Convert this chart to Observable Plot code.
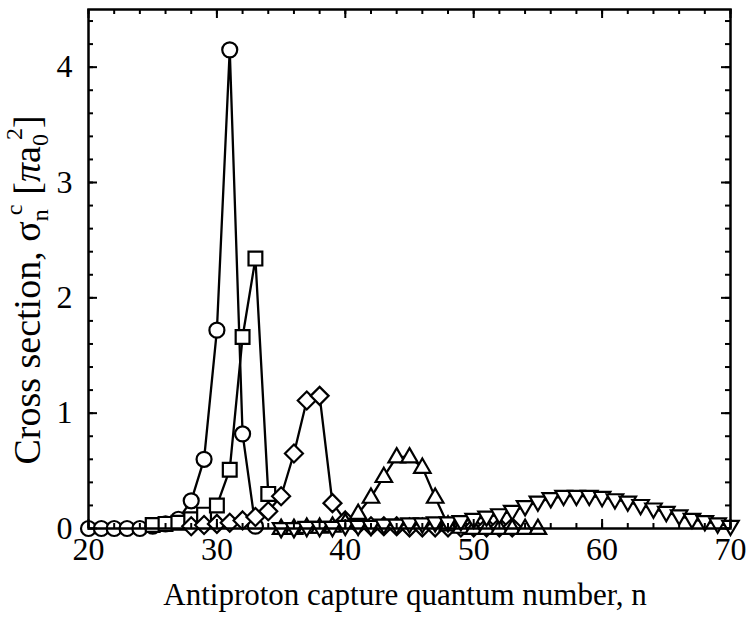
<!DOCTYPE html>
<html>
<head>
<meta charset="utf-8">
<script src="https://cdn.jsdelivr.net/npm/d3@7"></script>
<script src="https://cdn.jsdelivr.net/npm/@observablehq/plot@0.6"></script>
<style>
  html, body { margin: 0; padding: 0; background: #fff; }
  svg { display: block; }
</style>
</head>
<body>
<div id="chart"></div>
<script>
// ---- data ----
const circleN = [20,21,22,23,24,25,26,27,28,29,30,31,32,33];
const circleV = [0,0,0,0,0,0.02,0.04,0.08,0.24,0.6,1.72,4.15,0.82,0.02];

const squareN = [25,26,27,28,29,30,31,32,33,34];
const squareV = [0.03,0.04,0.05,0.08,0.12,0.2,0.51,1.66,2.34,0.3];

const diamondN = [28,29,30,31,32,33,34,35,36,37,38,39,40,41,42,43,44,45,46,47,48,49,50,51,52,53];
const diamondV = [0.02,0.03,0.04,0.05,0.07,0.1,0.15,0.28,0.65,1.11,1.15,0.22,0.07,0.03,0.02,0.02,0.02,0.01,0.01,0.01,0.01,0.01,0.01,0.01,0.01,0.01];

const upN = [35,36,37,38,39,40,41,42,43,44,45,46,47,48,49,50,51,52,53,54,55];
const upV = [0.0,0.0,0.01,0.01,0.02,0.05,0.13,0.27,0.45,0.62,0.62,0.53,0.27,0.03,0.01,0.0,0.0,0.0,0.0,0.0,0.0];

const downN = [35,36,37,38,39,40,41,42,43,44,45,46,47,48,49,50,51,52,53,54,55,56,57,58,59,60,61,62,63,64,65,66,67,68,69,70];
const downV = [0.0,0.0,0.01,0.01,0.01,0.02,0.02,0.02,0.03,0.03,0.04,0.04,0.05,0.05,0.06,0.08,0.1,0.12,0.15,0.19,0.23,0.26,0.28,0.28,0.28,0.27,0.25,0.23,0.2,0.17,0.14,0.11,0.08,0.06,0.04,0.02];

const xTicks = [20,30,40,50,60,70];
const xMinor = d3.range(20, 71, 2);
const yTicks = [0,1,2,3,4];
const yMinor = d3.range(0, 4.5, 0.2);

// ---- symbols ----
const R = s => Math.sqrt(s / Math.PI);
const symCircle = {draw(c, s){ const r = R(s); c.moveTo(r, 0); c.arc(0, 0, r, 0, 2*Math.PI); }};
const symSquare = {draw(c, s){ const r = R(s)*0.92; c.rect(-r, -r, 2*r, 2*r); }};
const symDiamond = {draw(c, s){ const r = R(s)*1.2; c.moveTo(0,-r); c.lineTo(r,0); c.lineTo(0,r); c.lineTo(-r,0); c.closePath(); }};
const symUp = {draw(c, s){ const r = R(s); const w = r*1.1, h = r*1.9; c.moveTo(0,-h*0.62); c.lineTo(w,h*0.38); c.lineTo(-w,h*0.38); c.closePath(); }};
const symDown = {draw(c, s){ const r = R(s); const w = r*1.1, h = r*1.9; c.moveTo(0,h*0.62); c.lineTo(w,-h*0.38); c.lineTo(-w,-h*0.38); c.closePath(); }};

const mk = (N, V) => N.map((n, i) => ({n, v: V[i]}));
const series = [
  {data: mk(circleN, circleV), symbol: symCircle},
  {data: mk(squareN, squareV), symbol: symSquare},
  {data: mk(diamondN, diamondV), symbol: symDiamond},
  {data: mk(upN, upV), symbol: symUp},
  {data: mk(downN, downV), symbol: symDown}
];

const W = 748, H = 617;
const mL = 88, mR = 18, mT = 9, mB = 89;
const pw = W - mL - mR, ph = H - mT - mB;

const marks = [];
for (const s of series) {
  marks.push(Plot.line(s.data, {x: "n", y: "v", stroke: "#000", strokeWidth: 2.3}));
  marks.push(Plot.dot(s.data, {x: "n", y: "v", symbol: s.symbol, r: 7.5, fill: "#fff", stroke: "#000", strokeWidth: 2.2}));
}

// inward ticks
marks.push(Plot.tickY(yTicks, {y: d => d, insetRight: pw - 9, strokeWidth: 2}));
marks.push(Plot.tickY(yTicks, {y: d => d, insetLeft: pw - 9, strokeWidth: 2}));
marks.push(Plot.tickY(yMinor, {y: d => d, insetRight: pw - 5, strokeWidth: 2}));
marks.push(Plot.tickY(yMinor, {y: d => d, insetLeft: pw - 5, strokeWidth: 2}));
marks.push(Plot.tickX(xTicks, {x: d => d, insetTop: ph - 9, strokeWidth: 2}));
marks.push(Plot.tickX(xTicks, {x: d => d, insetBottom: ph - 9, strokeWidth: 2}));
marks.push(Plot.tickX(xMinor, {x: d => d, insetTop: ph - 5, strokeWidth: 2}));
marks.push(Plot.tickX(xMinor, {x: d => d, insetBottom: ph - 5, strokeWidth: 2}));
marks.push(Plot.frame({stroke: "#000", strokeWidth: 2.5}));
marks.push(Plot.axisX(xTicks, {tickSize: 0, tickPadding: 9, fontSize: 32, label: null, tickFormat: d => String(d)}));
marks.push(Plot.axisY(yTicks, {tickSize: 0, tickPadding: 16, fontSize: 32, label: null, tickFormat: d => String(d)}));

const chart = Plot.plot({
  width: W, height: H,
  marginLeft: mL, marginRight: mR, marginTop: mT, marginBottom: mB,
  style: {fontFamily: "'Liberation Serif', 'DejaVu Serif', serif", fontSize: "32px", color: "#000", background: "#fff"},
  x: {domain: [20, 70]},
  y: {domain: [0, 4.5]},
  marks
});

const svg = d3.select(chart);
// x axis title
svg.append("text")
  .attr("x", mL + pw/2 - 4).attr("y", 605)
  .attr("text-anchor", "middle")
  .attr("font-family", "'Liberation Serif', serif")
  .attr("font-size", 31).attr("fill", "#000")
  .text("Antiproton capture quantum number, n");

// y axis title with sub/superscripts
const yt = svg.append("text")
  .attr("transform", `translate(40, 290) rotate(-90)`)
  .attr("text-anchor", "middle")
  .attr("font-family", "'Liberation Serif', serif")
  .attr("font-size", 38).attr("fill", "#000");
yt.append("tspan").text("Cross section, σ");
yt.append("tspan").attr("font-size", 24).attr("dy", 8).text("n");
yt.append("tspan").attr("font-size", 24).attr("dx", -6).attr("dy", -26).text("c");
yt.append("tspan").attr("dy", 18).attr("dx", 10).text("[");
yt.append("tspan").attr("font-style", "italic").text("π");
yt.append("tspan").text("a");
yt.append("tspan").attr("font-size", 24).attr("dy", 8).text("0");
yt.append("tspan").attr("font-size", 24).attr("dx", -6).attr("dy", -26).text("2");
yt.append("tspan").attr("dy", 18).text("]");

document.getElementById("chart").appendChild(chart);
</script>
</body>
</html>
